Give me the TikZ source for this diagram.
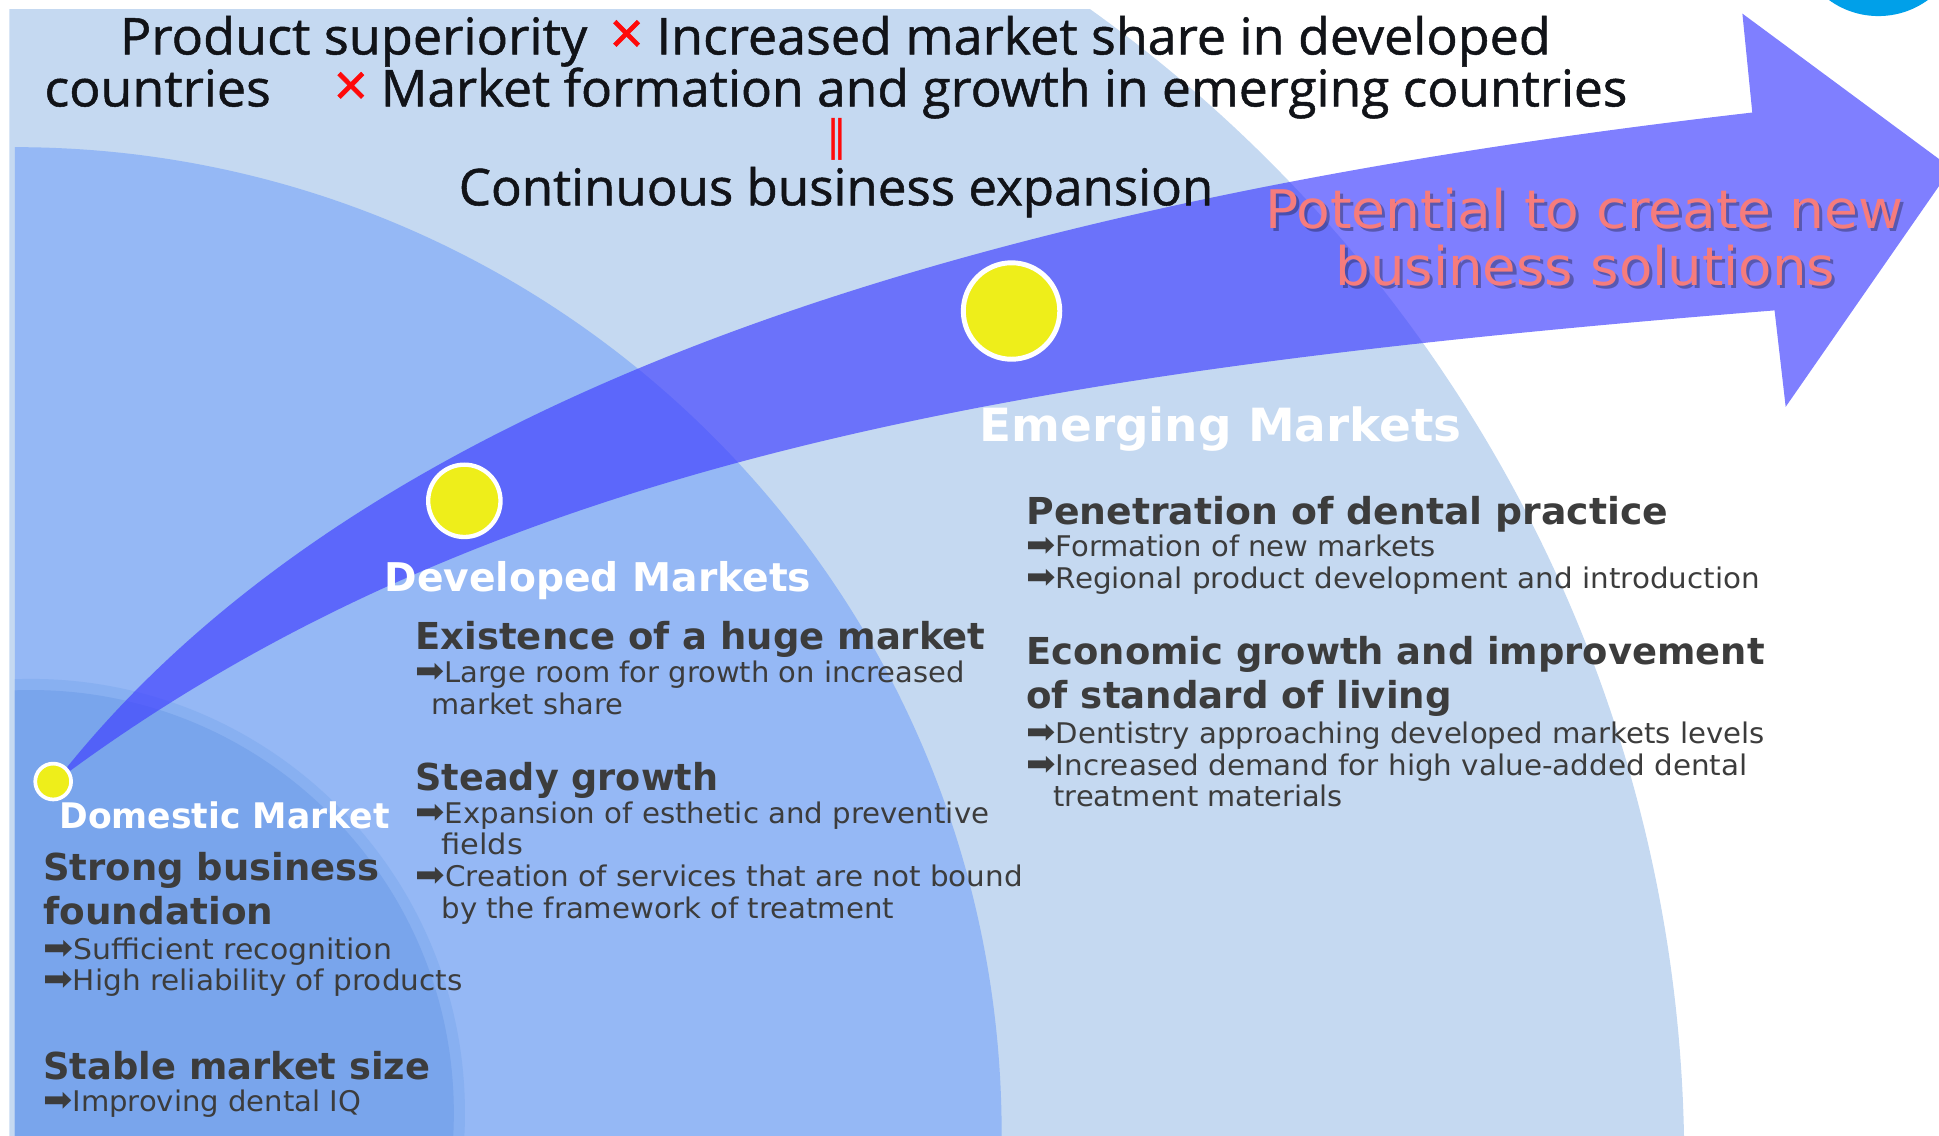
\documentclass[tikz,border=0pt]{standalone}
\usepackage{fontspec}
\usepackage{graphicx}
\setmainfont{DejaVu Sans}
\newfontfamily\titlefont[FakeBold=1]{Open Sans}
\newfontfamily\bodyfont{DejaVu Sans}

\definecolor{paleblue}{HTML}{C5D9F1}
\definecolor{midblue}{HTML}{95B8F5}
\definecolor{rimblue}{HTML}{88B0F1}
\definecolor{deepblue}{HTML}{79A5EC}
\definecolor{flowblue}{HTML}{4040FF}
\definecolor{dotyellow}{HTML}{EEEE1A}
\definecolor{titleblack}{HTML}{111318}
\definecolor{bodygray}{HTML}{3C3C3C}
\definecolor{salmon}{HTML}{F67C7C}
\definecolor{crossred}{HTML}{FF0A0A}
\definecolor{cornercyan}{HTML}{00A0E9}

% stretch a line of text to a given width (in pt), keeping its height
\newcommand\fitw[2]{\resizebox{#1pt}{\height}{#2}}
\newcommand\bul{\scalebox{1.2}{\bodyfont ➡}}

\begin{document}
\begin{tikzpicture}[x=1pt,y=-1pt,
  txt/.style={inner sep=0pt, outer sep=0pt, anchor=base west},
  ttl/.style={txt, font=\titlefont\fontsize{41}{41}\selectfont, text=titleblack},
  crossmark/.style={txt, font=\titlefont\fontsize{48}{48}\selectfont, text=crossred},
  hd/.style={txt, font=\bodyfont\bfseries\fontsize{30}{30}\selectfont, text=bodygray},
  sub/.style={txt, font=\bodyfont\fontsize{23}{23}\selectfont, text=bodygray},
  mkt/.style={txt, font=\bodyfont\bfseries, text=white},
  pot/.style={txt, font=\bodyfont\fontsize{43}{43}\selectfont, text=salmon},
  potshadow/.style={pot, text=black, text opacity=.3},
  dot/.style={circle, fill=dotyellow, draw=white, inner sep=0pt}]
\useasboundingbox (0,0) rectangle (1568,918);

\begin{scope}
\clip (0,0) rectangle (1568,918);
% market areas
\begin{scope}
  \clip (7.5,7.5) rectangle (1568,918);
  \fill[paleblue] (215,941) circle[radius=1147pt];
\end{scope}
\begin{scope}
  \clip (12,0) rectangle (1568,918);
  \fill[midblue] (12,917) circle[radius=798pt];
  \fill[rimblue] (25,900) circle[radius=351pt];
  \fill[deepblue] (25,900) circle[radius=342pt];
\end{scope}
\fill[cornercyan] (1519,-55) circle[radius=68pt];

% growth arrow
\fill[flowblue, opacity=.67]
  (45,632) .. controls (300,305) and (817,160) .. (1417,91)
  -- (1409,11) -- (1578,136) -- (1444,329) -- (1435,251)
  .. controls (835,299) and (395,370) .. (45,632) -- cycle;
\end{scope}

% market points
\node[dot, minimum size=29pt, line width=3pt] (pdom) at (43,632) {};
\node[dot, minimum size=58.5pt, line width=3.5pt] (pdev) at (375.5,405) {};
\node[dot, minimum size=78pt, line width=4pt] (peme) at (818,251.5) {};

% headline
\node[ttl] (ttlA) at (97,44) {\fitw{378}{Product superiority}};
\node[crossmark] (crossA) at (493,44) {×};
\node[ttl] (ttlB) at (531,44) {\fitw{723}{Increased market share in developed}};
\node[ttl] (ttlC) at (36,86) {\fitw{183}{countries}};
\node[crossmark] (crossB) at (270,86) {×};
\node[ttl] (ttlD) at (308,86) {\fitw{1008}{Market formation and growth in emerging countries}};
\node[inner sep=0pt, text=crossred, font=\bodyfont\fontsize{34}{34}\selectfont] (equal) at (676.5,113) {‖};
\node[ttl] (ttlE) at (371,166) {\fitw{610}{Continuous business expansion}};

% outlook
\node[potshadow] (potAs) at (1025.5,187.5) {\fitw{516}{Potential to create new}};
\node[potshadow] (potBs) at (1082.5,233.5) {\fitw{404}{business solutions}};
\node[pot] (potA) at (1023,185) {\fitw{516}{Potential to create new}};
\node[pot] (potB) at (1080,231) {\fitw{404}{business solutions}};

% market names
\node[mkt, font=\bodyfont\bfseries\fontsize{28.5}{28.5}\selectfont] (lblDom) at (48,670) {\fitw{267}{Domestic Market}};
\node[mkt, font=\bodyfont\bfseries\fontsize{32}{32}\selectfont] (lblDev) at (311,478.5) {\fitw{345}{Developed Markets}};
\node[mkt, font=\bodyfont\bfseries\fontsize{37}{37}\selectfont] (lblEme) at (792,357) {\fitw{390}{Emerging Markets}};

% domestic market
\node[hd] (hdA) at (35,712) {\fitw{272}{Strong business}};
\node[hd] (hdB) at (35,748) {\fitw{186}{foundation}};
\node[sub] (sbA) at (35,776) {\fitw{282}{\bul Sufficient recognition}};
\node[sub] (sbB) at (35,801) {\fitw{339}{\bul High reliability of products}};
\node[hd] (hdC) at (35,873) {\fitw{313}{Stable market size}};
\node[sub] (sbC) at (35,899) {\fitw{257}{\bul Improving dental IQ}};

% developed markets
\node[hd] (hdD) at (336,525) {\fitw{461}{Existence of a huge market}};
\node[sub] (sbD) at (336,552) {\fitw{444}{\bul Large room for growth on increased}};
\node[sub] (sbE) at (349,578) {\fitw{155}{market share}};
\node[hd] (hdE) at (336,639) {\fitw{245}{Steady growth}};
\node[sub] (sbF) at (336,666) {\fitw{464}{\bul Expansion of esthetic and preventive}};
\node[sub] (sbG) at (357,691) {\fitw{66}{fields}};
\node[sub] (sbH) at (336,717) {\fitw{491}{\bul Creation of services that are not bound}};
\node[sub] (sbI) at (357,743) {\fitw{366}{by the framework of treatment}};

% emerging markets
\node[hd] (hdF) at (830,424) {\fitw{519}{Penetration of dental practice}};
\node[sub] (sbJ) at (830,450) {\fitw{331}{\bul Formation of new markets}};
\node[sub] (sbK) at (830,476) {\fitw{593}{\bul Regional product development and introduction}};
\node[hd] (hdG) at (830,537) {\fitw{597}{Economic growth and improvement}};
\node[hd] (hdH) at (830,573) {\fitw{344}{of standard of living}};
\node[sub] (sbL) at (830,601) {\fitw{597}{\bul Dentistry approaching developed markets levels}};
\node[sub] (sbM) at (830,627) {\fitw{583}{\bul Increased demand for high value-added dental}};
\node[sub] (sbN) at (852,652.5) {\fitw{234}{treatment materials}};
\end{tikzpicture}
\end{document}
